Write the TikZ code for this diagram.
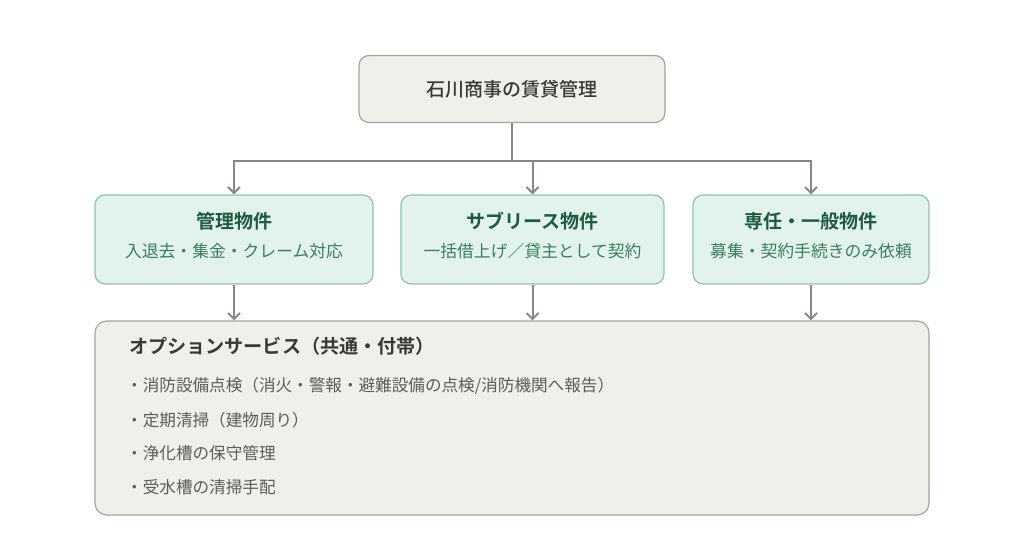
\documentclass[tikz,border=0pt]{standalone}
\usepackage{fontspec}
\setmainfont{Noto Sans CJK JP}[BoldFont={Noto Sans CJK JP Bold}]
\newfontfamily\medfont{Noto Sans CJK JP Medium}
\usetikzlibrary{arrows.meta}
\definecolor{beigefill}{HTML}{F1EFE9}
\definecolor{beigeline}{HTML}{A9A59D}
\definecolor{greenfill}{HTML}{E1F3EC}
\definecolor{greenline}{HTML}{8DC3AD}
\definecolor{greentitle}{HTML}{1E5A42}
\definecolor{greensub}{HTML}{3C7D60}
\definecolor{conn}{HTML}{8A8782}
\definecolor{darktext}{HTML}{3A3936}
\definecolor{itemtext}{HTML}{5E5C58}
\tikzset{
  topbox/.style={draw=beigeline, fill=beigefill, line width=1.2pt, rounded corners=10pt, minimum width=306pt, minimum height=67pt, inner sep=0pt},
  greenbox/.style={draw=greenline, fill=greenfill, line width=1.2pt, rounded corners=10pt, minimum height=89pt, inner sep=0pt},
  botbox/.style={draw=beigeline, fill=beigefill, line width=1.2pt, rounded corners=12pt, minimum width=834pt, minimum height=194pt, inner sep=0pt},
  gtitle/.style={font=\fontsize{19pt}{22pt}\selectfont\bfseries, text=greentitle, inner sep=0pt},
  gsub/.style={font=\fontsize{16.8pt}{20pt}\selectfont, text=greensub, inner sep=0pt},
  conline/.style={draw=conn, line width=2pt},
  arr/.style={conline, -{Straight Barb[length=6pt,width=12pt,line width=2pt]}},
  itemtxt/.style={font=\fontsize{16.6pt}{19pt}\selectfont, text=itemtext, anchor=west, inner sep=0pt},
}
\begin{document}
\begin{tikzpicture}[x=1pt,y=-1pt]
\useasboundingbox (0,0) rectangle (1024,557);
\fill[white] (0,0) rectangle (1024,557);
% top
\node[topbox] (top) at (512,89) {};
\node[font=\fontsize{19pt}{22pt}\selectfont\medfont, text=darktext, inner sep=0pt] (toptxt) at (512,89) {石川商事の賃貸管理};
% green boxes
\node[greenbox, minimum width=278pt] (b1) at (234,239.5) {};
\node[greenbox, minimum width=263pt] (b2) at (532.5,239.5) {};
\node[greenbox, minimum width=236pt] (b3) at (811,239.5) {};
\node[gtitle] (t1) at (234,221) {管理物件};
\node[gsub] (s1) at (234,251) {入退去・集金・クレーム対応};
\node[gtitle] (t2) at (532.5,221) {サブリース物件};
\node[gsub] (s2) at (532.5,251) {一括借上げ／貸主として契約};
\node[gtitle] (t3) at (811,221) {専任・一般物件};
\node[gsub] (s3) at (811,251) {募集・契約手続きのみ依頼};
% bottom
\node[botbox] (bot) at (512,418) {};
\node[font=\fontsize{19.1pt}{22pt}\selectfont\bfseries, text=darktext, anchor=west, inner sep=0pt] (bh) at (129,346) {オプションサービス（共通・付帯）};
\node[itemtxt] (i1) at (126,386) {・消防設備点検（消火・警報・避難設備の点検/消防機関へ報告）};
\node[itemtxt] (i2) at (126,420) {・定期清掃（建物周り）};
\node[itemtxt] (i3) at (126,453) {・浄化槽の保守管理};
\node[itemtxt] (i4) at (126,487) {・受水槽の清掃手配};
% connectors
\coordinate (j) at (512,161);
\draw[conline] (top.south) -- (j);
\draw[arr] (j) -| (b1.north);
\draw[arr] (j) -| (b2.north);
\draw[arr] (j) -| (b3.north);
\draw[arr] (b1.south) -- (b1.south |- bot.north);
\draw[arr] (b2.south) -- (b2.south |- bot.north);
\draw[arr] (b3.south) -- (b3.south |- bot.north);
\end{tikzpicture}
\end{document}
